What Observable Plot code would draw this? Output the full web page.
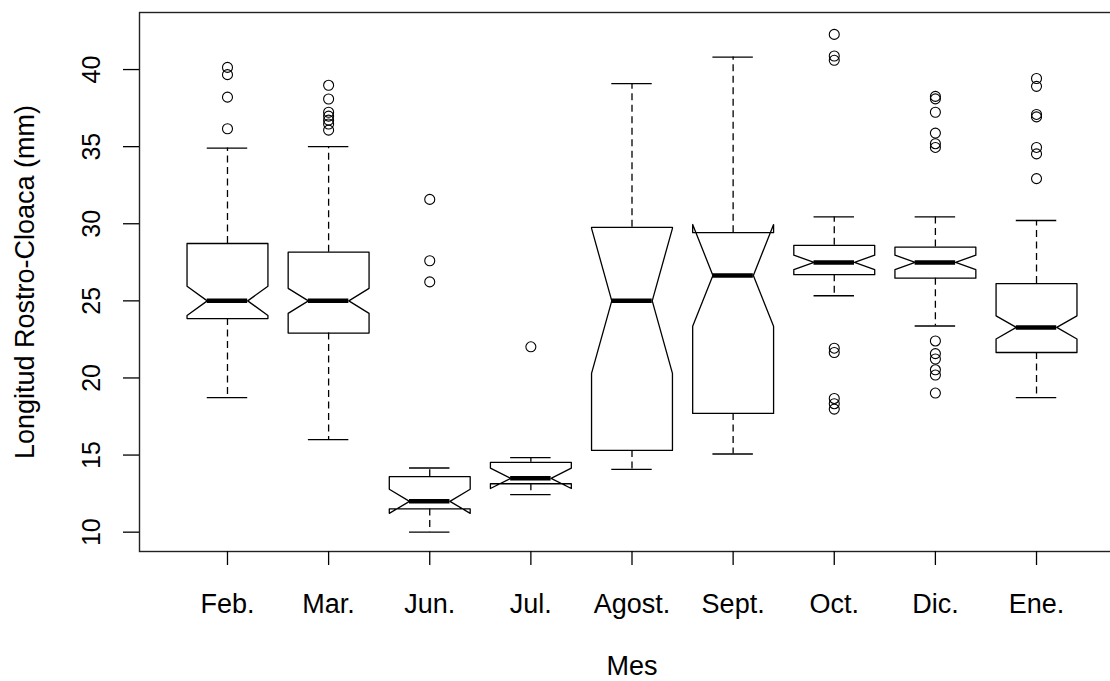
<!DOCTYPE html>
<html>
<head>
<meta charset="utf-8">
<script src="https://cdn.jsdelivr.net/npm/d3@7"></script>
<script src="https://cdn.jsdelivr.net/npm/@observablehq/plot@0.6"></script>
<style>
  html, body { margin: 0; padding: 0; background: #ffffff; }
  #chart { width: 1110px; height: 681px; overflow: hidden; }
</style>
</head>
<body>
<div id="chart"></div>
<script>
// ---- data (Longitud Rostro-Cloaca, mm) ----
const months = ["Feb.", "Mar.", "Jun.", "Jul.", "Agost.", "Sept.", "Oct.", "Dic.", "Ene."];
const lowerWhisker = [18.72, 16.0, 10.0, 12.44, 14.07, 15.07, 25.33, 23.37, 18.72];
const q1           = [23.85, 22.91, 11.51, 13.14, 15.3, 17.7, 26.7, 26.47, 21.65];
const notchLo      = [24.05, 24.19, 11.22, 12.83, 20.3, 23.35, 27.02, 27.02, 22.53];
const medians      = [25.0, 25.0, 12.0, 13.49, 25.0, 26.65, 27.49, 27.49, 23.28];
const notchHi      = [25.95, 25.81, 12.78, 14.15, 29.7, 29.95, 27.96, 27.96, 24.03];
const q3           = [28.72, 28.16, 13.6, 14.53, 29.77, 29.42, 28.6, 28.49, 26.12];
const upperWhisker = [34.91, 35.0, 14.16, 14.84, 39.09, 40.81, 30.44, 30.44, 30.21];

const outlierMonth = [
  "Feb.", "Feb.", "Feb.", "Feb.",
  "Mar.", "Mar.", "Mar.", "Mar.", "Mar.", "Mar.", "Mar.",
  "Jun.", "Jun.", "Jun.",
  "Jul.",
  "Oct.", "Oct.", "Oct.", "Oct.", "Oct.", "Oct.", "Oct.", "Oct.",
  "Dic.", "Dic.", "Dic.", "Dic.", "Dic.", "Dic.", "Dic.", "Dic.", "Dic.", "Dic.", "Dic.", "Dic.",
  "Ene.", "Ene.", "Ene.", "Ene.", "Ene.", "Ene.", "Ene."
];
const outlierValue = [
  40.14, 39.67, 38.21, 36.16,
  38.98, 38.09, 37.23, 36.98, 36.72, 36.47, 36.07,
  31.58, 27.6, 26.23,
  22.02,
  42.28, 40.88, 40.6, 21.93, 21.65, 18.67, 18.33, 17.98,
  38.26, 38.1, 37.23, 35.88, 35.19, 34.95, 22.4, 21.58, 21.23, 20.53, 20.19, 19.02,
  39.42, 38.91, 37.09, 36.93, 34.95, 34.53, 32.93
];
const yTicks = [10, 15, 20, 25, 30, 35, 40];
const xTitle = "Mes";
const yTitle = "Longitud Rostro-Cloaca (mm)";

// ---- build tables for the library ----
const boxWidth = 0.4;    // half width of box (R boxwex 0.8)
const notchWidth = 0.2;  // half width at the notch
const stapleWidth = 0.2; // half width of whisker caps

const stats = months.map((m, i) => ({
  pos: i + 1, month: m,
  lo: lowerWhisker[i], q1: q1[i], nlo: notchLo[i], med: medians[i],
  nhi: notchHi[i], q3: q3[i], hi: upperWhisker[i]
}));

const boxOutline = [];
for (const s of stats) {
  const pts = [
    [s.pos - boxWidth, s.q1], [s.pos - boxWidth, s.nlo], [s.pos - notchWidth, s.med],
    [s.pos - boxWidth, s.nhi], [s.pos - boxWidth, s.q3], [s.pos + boxWidth, s.q3],
    [s.pos + boxWidth, s.nhi], [s.pos + notchWidth, s.med], [s.pos + boxWidth, s.nlo],
    [s.pos + boxWidth, s.q1], [s.pos - boxWidth, s.q1]
  ];
  pts.forEach(([x, y]) => boxOutline.push({month: s.month, x, y}));
}

const outliers = outlierMonth.map((m, i) => ({pos: months.indexOf(m) + 1, value: outlierValue[i]}));

const font = "'Liberation Sans', Arial, Helvetica, sans-serif";

const chart = Plot.plot({
  width: 1110,
  height: 681,
  marginTop: 12,
  marginLeft: 139,
  marginBottom: 130,
  marginRight: -14,
  style: {fontFamily: font, fontSize: "27px", color: "#000", background: "#fff"},
  x: {type: "linear", domain: [0.13, 9.87]},
  y: {type: "linear", domain: [8.746, 43.70]},
  marks: [
    Plot.frame({stroke: "#222", strokeWidth: 1.4}),
    Plot.axisX({
      ticks: months.map((m, i) => i + 1),
      tickFormat: (d) => months[d - 1],
      tickSize: 14, tickPadding: 28, label: null, fontSize: 27, strokeWidth: 1.3
    }),
    Plot.axisY({
      ticks: yTicks, tickFormat: (d) => String(d), tickSize: 16, tickPadding: 24,
      tickRotate: -90, label: null, fontSize: 25, strokeWidth: 1.3
    }),
    // whiskers (dashed)
    Plot.ruleX(stats, {x: "pos", y1: "q3", y2: "hi", stroke: "#000", strokeWidth: 1.3, strokeDasharray: "7,4.5"}),
    Plot.ruleX(stats, {x: "pos", y1: "q1", y2: "lo", stroke: "#000", strokeWidth: 1.3, strokeDasharray: "7,4.5"}),
    // staples
    Plot.ruleY(stats, {y: "hi", x1: (d) => d.pos - stapleWidth, x2: (d) => d.pos + stapleWidth, stroke: "#000", strokeWidth: 1.3}),
    Plot.ruleY(stats, {y: "lo", x1: (d) => d.pos - stapleWidth, x2: (d) => d.pos + stapleWidth, stroke: "#000", strokeWidth: 1.3}),
    // notched boxes
    Plot.line(boxOutline, {x: "x", y: "y", z: "month", stroke: "#000", strokeWidth: 1.3, curve: "linear"}),
    // medians
    Plot.ruleY(stats, {y: "med", x1: (d) => d.pos - notchWidth, x2: (d) => d.pos + notchWidth, stroke: "#000", strokeWidth: 4.5, strokeLinecap: "butt"}),
    // outliers
    Plot.dot(outliers, {x: "pos", y: "value", r: 5, stroke: "#000", fill: "none", strokeWidth: 1.1}),
    // axis titles
    Plot.text([xTitle], {text: (d) => d, frameAnchor: "bottom", lineAnchor: "middle", textAnchor: "middle", dy: 115, fontSize: 27, fill: "#000"}),
    Plot.text([yTitle], {text: (d) => d, frameAnchor: "left", rotate: -90, lineAnchor: "middle", textAnchor: "middle", dx: -114, fontSize: 27, fill: "#000"})
  ]
});

document.getElementById("chart").appendChild(chart);
</script>
</body>
</html>
